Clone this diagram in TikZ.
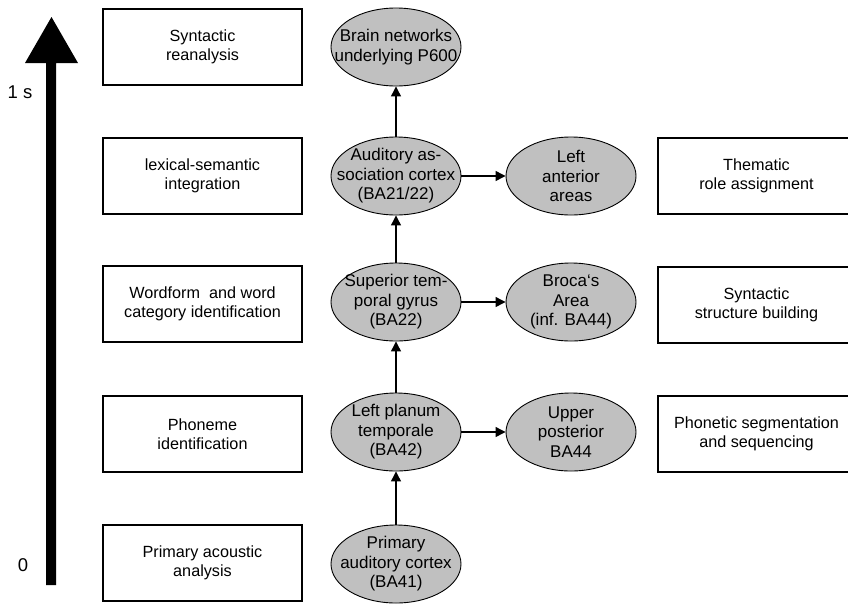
\documentclass[tikz,border=0pt]{standalone}
\usepackage{fontspec}
\setmainfont{Liberation Sans}
\usetikzlibrary{arrows.meta,shapes.geometric}
\definecolor{ellgray}{RGB}{192,192,192}
\begin{document}
\begin{tikzpicture}[x=1pt,y=-1pt,
  every node/.style={align=center},
  stagebox/.style={draw, line width=2pt, minimum height=76pt, inner sep=0pt, font=\fontsize{16.2}{19}\selectfont},
  lbox/.style={stagebox, minimum width=199pt},
  rbox/.style={stagebox, minimum width=197pt},
  area/.style={ellipse, draw, line width=0.9pt, fill=ellgray, minimum width=130pt, minimum height=78pt, inner sep=0pt, inner xsep=-24pt, font=\fontsize{17}{19.5}\selectfont},
  axislabel/.style={font=\fontsize{18.5}{20}\selectfont},
  conn/.style={line width=1.2pt, -{Triangle[length=10pt,width=10pt]}}]
\useasboundingbox (0,0) rectangle (848,603);
% time axis
\fill (46,585) -- (46,63) -- (25,63) -- (51.5,17) -- (78,63) -- (56,63) -- (56,585) -- cycle;
\node[axislabel] (t1) at (20,92) {1 s};
\node[axislabel] (t0) at (23,565) {0};
% left boxes
\node[lbox] (b1) at (202.5,47) {Syntactic\\reanalysis};
\node[lbox] (b2) at (202.5,176) {lexical-semantic\\integration};
\node[lbox] (b3) at (202.5,304) {Wordform\ \ and word\\category identification};
\node[lbox] (b4) at (202.5,434) {Phoneme\\identification};
\node[lbox] (b5) at (202.5,563) {Primary acoustic\\analysis};
% centre column
\node[area] (e1) at (396,47) {Brain networks\\underlying P600};
\node[area] (e2) at (396,176) {Auditory as-\\sociation cortex\\(BA21/22)};
\node[area] (e3) at (396,302) {Superior tem-\\poral gyrus\\(BA22)};
\node[area] (e4) at (396,432) {Left planum\\temporale\\(BA42)};
\node[area] (e5) at (396,564) {Primary\\auditory cortex\\(BA41)};
% right ellipses
\node[area] (f2) at (571,176) {Left\\anterior\\areas};
\node[area] (f3) at (571,302) {Broca‘s\\Area\\(inf. BA44)};
\node[area] (f4) at (571,432) {Upper\\posterior\\BA44};
% right boxes
\node[rbox] (r2) at (756.5,176) {Thematic\\role assignment};
\node[rbox] (r3) at (756.5,305) {Syntactic\\structure building};
\node[rbox] (r4) at (756.5,434) {Phonetic segmentation\\and sequencing};
% connectors
\draw[conn] (e5) -- (e4);
\draw[conn] (e4) -- (e3);
\draw[conn] (e3) -- (e2);
\draw[conn] (e2) -- (e1);
\draw[conn] (e2) -- (f2);
\draw[conn] (e3) -- (f3);
\draw[conn] (e4) -- (f4);
\end{tikzpicture}
\end{document}
